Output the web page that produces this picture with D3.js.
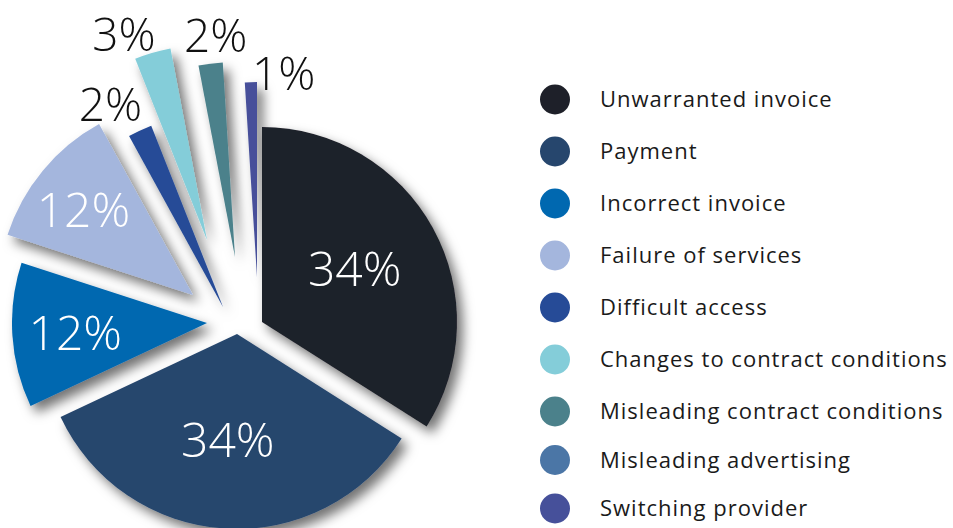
<!DOCTYPE html>
<html>
<head>
<meta charset="utf-8">
<script src="https://cdn.jsdelivr.net/npm/d3@7"></script>
<style>
  html, body { margin: 0; padding: 0; background: #fff; }
  svg { display: block; }
  .pct { font-family: "Open Sans", sans-serif; font-weight: 300; }
  .leg { font-family: "Open Sans", sans-serif; font-size: 22px; letter-spacing: 1px; fill: #1a1a1a; }
</style>
</head>
<body>
<div id="chart"></div>
<script>
// complaint categories, legend order
var categories = [
    'Unwarranted invoice',
    'Payment',
    'Incorrect invoice',
    'Failure of services',
    'Difficult access',
    'Changes to contract conditions',
    'Misleading contract conditions',
    'Misleading advertising',
    'Switching provider'
];
var shares = [34, 34, 12, 12, 2, 3, 2, 0, 1];   // percent
var colours = ['#1e2029', '#26466d', '#0068b0', '#a4b6dd', '#264b97',
               '#84cdd9', '#4b818b', '#4b76a6', '#46509a'];

// hand exploded layout: how far each slice is pulled off the centre
var explode = [[24, -5], [-1, 7], [-31, -4], [-45, -32], [-15, -20], [-31, -87], [-3, -70], [0, 0], [19, -50]];
// label placement from the slice tip: [angle deg, distance], inside labels white
var labelPolar = [[60, 107], [185, 106], [266, 132], [308, 139], [331, 232], [338, 222], [355, 222], [0, 0], [7.5, 205]];
var labelInside = [true, true, true, true, false, false, false, false, false];

var width = 953, height = 528;
var radius = 195;
var cx = 238, cy = 327;

var svg = d3.select('#chart').append('svg')
    .attr('width', width)
    .attr('height', height);

var defs = svg.append('defs');
var shadow = defs.append('filter')
    .attr('id', 'shadow')
    .attr('x', '-20%').attr('y', '-20%')
    .attr('width', '140%').attr('height', '140%');
shadow.append('feDropShadow')
    .attr('dx', 6).attr('dy', 7)
    .attr('stdDeviation', 6)
    .attr('flood-color', '#000')
    .attr('flood-opacity', 0.55);

var rows = categories.map(function(c, i) {
    return { name: c, value: shares[i], colour: colours[i], off: explode[i], lab: labelPolar[i], inside: labelInside[i] };
});

var pie = d3.pie().sort(null).value(function(d) { return d.value; });
var arc = d3.arc().innerRadius(0).outerRadius(radius);

var arcs = pie(rows.filter(function(d) { return d.value > 0; }));

var g = svg.append('g').attr('transform', 'translate(' + cx + ',' + cy + ')');

var slices = g.append('g').attr('filter', 'url(#shadow)');
slices.selectAll('path')
    .data(arcs)
    .enter().append('path')
    .attr('d', arc)
    .attr('transform', function(d) { return 'translate(' + d.data.off[0] + ',' + d.data.off[1] + ')'; })
    .attr('fill', function(d) { return d.data.colour; });

g.append('g').selectAll('text')
    .data(arcs)
    .enter().append('text')
    .attr('class', 'pct')
    .attr('text-anchor', 'middle')
    .attr('dy', '0.36em')
    .attr('font-size', function(d) { return d.data.inside ? 48 : 46; })
    .attr('fill', function(d) { return d.data.inside ? '#fff' : '#111'; })
    .attr('x', function(d) {
        var p = d3.pointRadial(d.data.lab[0] * Math.PI / 180, d.data.lab[1]);
        return d.data.off[0] + p[0];
    })
    .attr('y', function(d) {
        var p = d3.pointRadial(d.data.lab[0] * Math.PI / 180, d.data.lab[1]);
        return d.data.off[1] + p[1];
    })
    .text(function(d) { return d.data.value + '%'; });

// legend
var ly = d3.scaleLinear().domain([0, 6, 8]).range([99.5, 411.5, 508.5]);
var legend = svg.append('g');
var item = legend.selectAll('g')
    .data(rows)
    .enter().append('g')
    .attr('transform', function(d, i) { return 'translate(555,' + ly(i) + ')'; });
item.append('circle')
    .attr('r', 15)
    .attr('fill', function(d) { return d.colour; });
item.append('text')
    .attr('class', 'leg')
    .attr('x', 45)
    .attr('dy', '0.35em')
    .text(function(d) { return d.name; });
</script>
</body>
</html>
